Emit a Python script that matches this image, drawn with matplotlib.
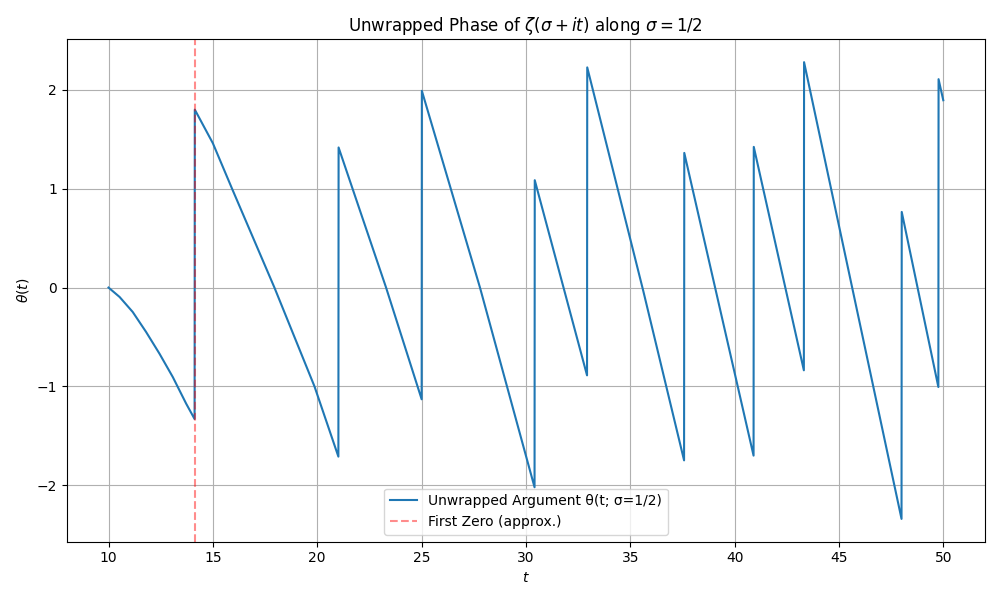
import matplotlib
matplotlib.use("Agg")
import matplotlib.pyplot as plt

# Values (segments between jumps)
t_vals = [10.0, 10.53, 11.16, 11.80, 12.44, 13.08, 13.72, 14.125,
          14.135, 15.0, 15.92, 17.95, 19.87, 21.015,
          21.025, 23.3, 25.005,
          25.015, 27.8, 30.415,
          30.425, 32.93,
          32.94, 35.62, 37.58,
          37.59, 40.91,
          40.92, 43.32,
          43.33, 48.0,
          48.01, 49.765,
          49.775, 50.0]
theta_vals = [0.0, -0.095, -0.247, -0.449, -0.668, -0.905, -1.174, -1.33,
              1.80, 1.46, 1.0, 0.0, -1.0, -1.71,
              1.417, 0.0, -1.13,
              1.99, 0.0, -2.02,
              1.086, -0.888,
              2.227, -0.03, -1.748,
              1.362, -1.70,
              1.423, -0.837,
              2.28, -2.34,
              0.765, -1.006,
              2.108, 1.895]
first_zero = 14.134725

plt.figure(figsize=(10, 6), dpi=100)
plt.plot(t_vals, theta_vals, label="Unwrapped Argument θ(t; σ=1/2)")
plt.axvline(first_zero, color="red", linestyle="--", alpha=0.45, label="First Zero (approx.)")
plt.title(r"Unwrapped Phase of $\zeta(\sigma + it)$ along $\sigma = 1/2$")
plt.xlabel(r"$t$")
plt.ylabel(r"$\theta(t)$")
plt.grid(True)
plt.legend(loc="lower center")
plt.tight_layout()
plt.savefig("out.png")
